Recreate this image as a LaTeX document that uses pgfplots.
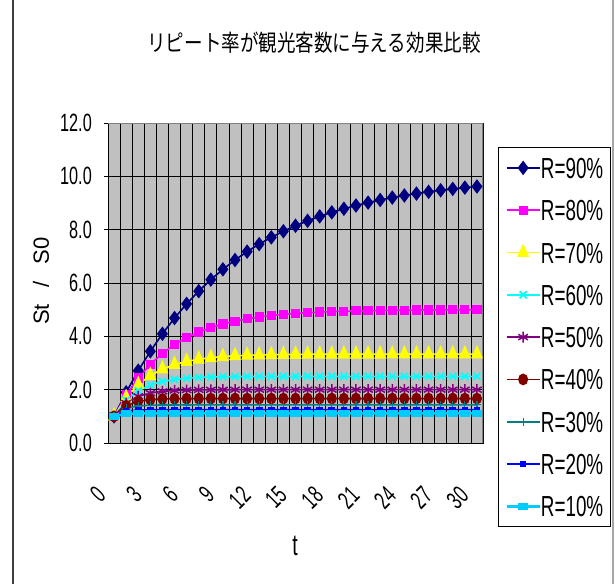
\documentclass[border=0pt]{standalone}
\usepackage{graphicx}
\usepackage{fontspec}
\usepackage{pgfplots}
\usepackage{pgfplotstable}
\pgfplotsset{compat=1.18}
\setmainfont{Liberation Sans}
\newfontfamily\arialn[FakeStretch=0.65]{Liberation Sans}
\newfontfamily\arial{Liberation Sans}
\newfontfamily\cjk{Noto Sans CJK JP}
\definecolor{plotgray}{HTML}{C0C0C0}
\definecolor{cNavy}{HTML}{000080}
\definecolor{cMag}{HTML}{FF00FF}
\definecolor{cYel}{HTML}{FFFF00}
\definecolor{cCyan}{HTML}{00FFFF}
\definecolor{cPurp}{HTML}{800080}
\definecolor{cMaroon}{HTML}{800000}
\definecolor{cTeal}{HTML}{008080}
\definecolor{cBlue}{HTML}{0000FF}
\definecolor{cSky}{HTML}{00CCFF}

\pgfplotstableread{
t r90 r80 r70 r60 r50 r40 r30 r20 r10
0 1.000 1.000 1.000 1.000 1.000 1.000 1.000 1.000 1.000
1 1.900 1.800 1.700 1.600 1.500 1.400 1.300 1.200 1.100
2 2.710 2.440 2.190 1.960 1.750 1.560 1.390 1.240 1.110
3 3.439 2.952 2.533 2.176 1.875 1.624 1.417 1.248 1.111
4 4.095 3.362 2.773 2.306 1.938 1.650 1.425 1.250 1.111
5 4.686 3.689 2.941 2.383 1.969 1.660 1.428 1.250 1.111
6 5.217 3.951 3.059 2.430 1.984 1.664 1.428 1.250 1.111
7 5.695 4.161 3.141 2.458 1.992 1.666 1.429 1.250 1.111
8 6.126 4.329 3.199 2.475 1.996 1.666 1.429 1.250 1.111
9 6.513 4.463 3.239 2.485 1.998 1.667 1.429 1.250 1.111
10 6.862 4.571 3.268 2.491 1.999 1.667 1.429 1.250 1.111
11 7.176 4.656 3.287 2.495 2.000 1.667 1.429 1.250 1.111
12 7.458 4.725 3.301 2.497 2.000 1.667 1.429 1.250 1.111
13 7.712 4.780 3.311 2.498 2.000 1.667 1.429 1.250 1.111
14 7.941 4.824 3.318 2.499 2.000 1.667 1.429 1.250 1.111
15 8.147 4.859 3.322 2.499 2.000 1.667 1.429 1.250 1.111
16 8.332 4.887 3.326 2.500 2.000 1.667 1.429 1.250 1.111
17 8.499 4.910 3.328 2.500 2.000 1.667 1.429 1.250 1.111
18 8.649 4.928 3.330 2.500 2.000 1.667 1.429 1.250 1.111
19 8.784 4.942 3.331 2.500 2.000 1.667 1.429 1.250 1.111
20 8.906 4.954 3.331 2.500 2.000 1.667 1.429 1.250 1.111
21 9.015 4.963 3.332 2.500 2.000 1.667 1.429 1.250 1.111
22 9.114 4.970 3.332 2.500 2.000 1.667 1.429 1.250 1.111
23 9.202 4.976 3.333 2.500 2.000 1.667 1.429 1.250 1.111
24 9.282 4.981 3.333 2.500 2.000 1.667 1.429 1.250 1.111
25 9.354 4.985 3.333 2.500 2.000 1.667 1.429 1.250 1.111
26 9.419 4.988 3.333 2.500 2.000 1.667 1.429 1.250 1.111
27 9.477 4.990 3.333 2.500 2.000 1.667 1.429 1.250 1.111
28 9.529 4.992 3.333 2.500 2.000 1.667 1.429 1.250 1.111
29 9.576 4.994 3.333 2.500 2.000 1.667 1.429 1.250 1.111
30 9.619 4.995 3.333 2.500 2.000 1.667 1.429 1.250 1.111
}\datatable

\begin{document}
\begin{tikzpicture}
\useasboundingbox (0pt,0pt) rectangle (615pt,-583pt);
\fill[white] (0pt,0pt) rectangle (615pt,-583pt);
\draw[line width=1.5pt, black!75] (13pt,2pt) -- (13pt,-585pt);
\draw[line width=1.5pt, black!35] (613pt,2pt) -- (613pt,-585pt);
\node at (314pt,-43pt) {\cjk\fontsize{22}{22}\selectfont\scalebox{0.843}[1.05]{リピート率が観光客数に与える効果比較}};
\node[rotate=90] at (41pt,-281pt) {\arial\fontsize{22}{22}\selectfont St\hspace{17pt}/\hspace{17pt}S0};
\node at (295pt,-546pt) {\arialn\fontsize{30}{30}\selectfont t};
\begin{axis}[
  at={(108pt,-443pt)}, anchor=south west,
  width=375pt, height=320pt, scale only axis,
  xmin=-0.5, xmax=30.5, ymin=0, ymax=12,
  axis background/.style={fill=plotgray},
  axis line style={black, line width=1pt},
  xtick={0,3,...,30},
  xticklabels={0,3,6,9,12,15,18,21,24,27,30},
  xtick style={draw=none},
  minor xtick={0.5,1.5,...,29.5},
  minor tick length=0pt,
  xminorgrids=true,
  minor x grid style={black, line width=0.8pt},
  ytick={0,2,...,12},
  yticklabels={0.0,2.0,4.0,6.0,8.0,10.0,12.0},
  ymajorgrids=true,
  major grid style={black, line width=0.8pt},
  ytick pos=left, xtick pos=bottom,
  tick align=outside, major tick length=4pt,
  ytick style={black, line width=0.8pt},
  yticklabel style={font=\arialn\fontsize{25}{25}\selectfont, inner sep=0pt, xshift=-12pt},
  xticklabel style={font=\arialn\fontsize{25}{25}\selectfont, inner sep=0pt, xshift=-13pt, yshift=-44pt, rotate=45, anchor=east},
  legend cell align=left,
  legend style={at={(axis description cs:1.04,0.925)}, anchor=north west,
    draw=black, line width=0.8pt, fill=white,
    inner xsep=7pt, inner ysep=10pt, row sep=21.3pt,
    font=\arialn\fontsize{29}{29}\selectfont,
    nodes={inner sep=0pt, text height=21pt, text depth=0pt},
    /tikz/every even column/.append style={column sep=6pt}},
  legend image code/.code={\draw[mark repeat=2,mark phase=2,#1] plot coordinates {(0pt,0pt) (16.5pt,0pt) (33pt,0pt)};},
  every axis plot/.append style={line width=1.6pt},
]
\addplot[cNavy, mark=diamond*, mark size=6pt, mark options={solid, fill=cNavy}] table[x=t,y=r90] {\datatable};
\addlegendentry{R=90\%}
\addplot[cMag, mark=square*, mark size=3.8pt, mark options={solid, fill=cMag}] table[x=t,y=r80] {\datatable};
\addlegendentry{R=80\%}
\addplot[cYel, mark=triangle*, mark size=5.5pt, mark options={solid, fill=cYel, yscale=1.3}] table[x=t,y=r70] {\datatable};
\addlegendentry{R=70\%}
\addplot[cCyan, mark=x, mark size=5pt, mark options={solid, line width=1.8pt}] table[x=t,y=r60] {\datatable};
\addlegendentry{R=60\%}
\addplot[cPurp, mark=asterisk, mark size=5.5pt, mark options={solid, line width=1.5pt}] table[x=t,y=r50] {\datatable};
\addlegendentry{R=50\%}
\addplot[cMaroon, mark=*, mark size=4.2pt, mark options={solid, fill=cMaroon, yscale=1.2}] table[x=t,y=r40] {\datatable};
\addlegendentry{R=40\%}
\addplot[cTeal, mark=+, mark size=4pt, mark options={solid, line width=1.2pt}] table[x=t,y=r30] {\datatable};
\addlegendentry{R=30\%}
\addplot[cBlue, mark=square*, mark size=2.5pt, mark options={solid, fill=cBlue, yscale=0.7}] table[x=t,y=r20] {\datatable};
\addlegendentry{R=20\%}
\addplot[cSky, line width=2.5pt, mark=square*, mark size=4pt, mark options={solid, fill=cSky, yscale=0.5}] table[x=t,y=r10] {\datatable};
\addlegendentry{R=10\%}
\draw[black!50, line width=2pt] (rel axis cs:0,1) -- (rel axis cs:1,1) -- (rel axis cs:1,0);
\end{axis}
\end{tikzpicture}
\end{document}
